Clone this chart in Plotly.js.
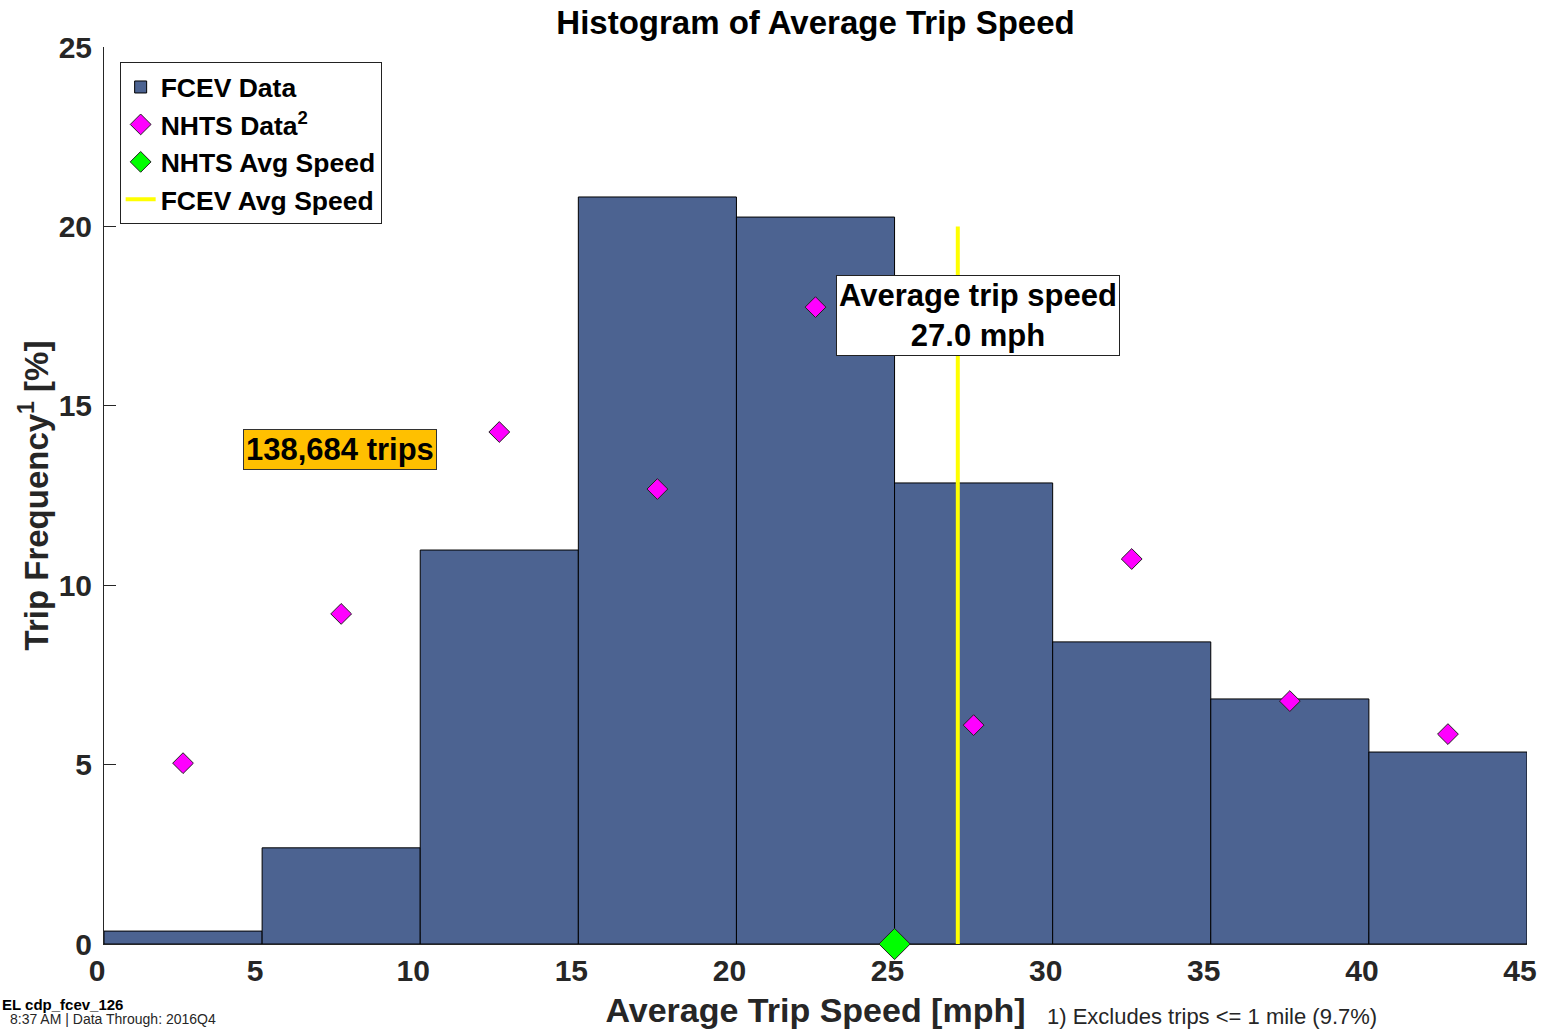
<!DOCTYPE html>
<html>
<head>
<meta charset="utf-8">
<script src="https://cdn.plot.ly/plotly-3.0.1.min.js"></script>
<style>html,body{margin:0;padding:0;background:#fff;}#chart{width:1551px;height:1029px;}</style>
</head>
<body>
<div id="chart"></div>
<script>
// ---- data ----
const binStart = [0, 5, 10, 15, 20, 25, 30, 35, 40];
const binWidth = 5;
const fcevFreq = [0.36, 2.68, 10.98, 20.82, 20.26, 12.85, 8.42, 6.83, 5.35];
const nhtsSpeed = [2.5, 7.5, 12.5, 17.5, 22.5, 27.5, 32.5, 37.5, 42.5];
const nhtsFreq = [5.04, 9.2, 14.27, 12.68, 17.75, 6.1, 10.73, 6.77, 5.85];
const nhtsAvgSpeed = 25.0;
const fcevAvgSpeed = 27.0;
const avgLineTop = 20;
const tripCount = "138,684 trips";
const xTicks = [0, 5, 10, 15, 20, 25, 30, 35, 40, 45];
const yTicks = [0, 5, 10, 15, 20, 25];

const FONT = "Liberation Sans, Arial, sans-serif";
const TXT = "#262626";

const barTrace = {
  type: "bar", name: "<b>FCEV Data</b>",
  x: binStart, y: fcevFreq, width: binWidth, offset: 0,
  marker: {color: "#4C6391", line: {color: "#000", width: 1}},
  legendrank: 1
};
const nhtsTrace = {
  type: "scatter", mode: "markers", name: "<b>NHTS Data<sup>2</sup></b>",
  x: nhtsSpeed, y: nhtsFreq,
  marker: {symbol: "diamond", size: 16, color: "#FF00FF", line: {color: "#222", width: 1}},
  cliponaxis: false, legendrank: 2
};
const nhtsAvgTrace = {
  type: "scatter", mode: "markers", name: "<b>NHTS Avg Speed</b>",
  x: [nhtsAvgSpeed], y: [0],
  marker: {symbol: "diamond", size: 24, color: "#00FF00", line: {color: "#222", width: 1}},
  cliponaxis: false, legendrank: 3
};
const fcevAvgTrace = {
  type: "scatter", mode: "lines", name: "<b>FCEV Avg Speed</b>",
  x: [fcevAvgSpeed, fcevAvgSpeed], y: [0, avgLineTop],
  line: {color: "#FFFF00", width: 4}, legendrank: 4
};

const layout = {
  width: 1551, height: 1029,
  margin: {l: 104, r: 24, t: 47, b: 85},
  paper_bgcolor: "#fff", plot_bgcolor: "#fff",
  font: {family: FONT, color: TXT},
  showlegend: true,
  bargap: 0,
  title: {text: "<b>Histogram of Average Trip Speed</b>", font: {size: 33, color: "#000", family: FONT},
          x: 0.5, xref: "paper", y: 0.978, yref: "container", yanchor: "middle"},
  xaxis: {
    range: [0, 45], tickvals: xTicks, ticktext: xTicks.map(v => "<b>" + v + "</b>"),
    ticks: "inside", ticklen: 12, tickcolor: TXT, showline: true, linecolor: TXT, linewidth: 1,
    showgrid: false, zeroline: false, layer: "below traces", ticklabelshift: -7,
    tickfont: {size: 30, color: TXT, family: FONT},
    title: {text: "<b>Average Trip Speed [mph]</b>", font: {size: 34, color: TXT, family: FONT}, standoff: 14}
  },
  yaxis: {
    range: [0, 25], tickvals: yTicks, ticktext: yTicks.map(v => "<b>" + v + "</b>"),
    ticks: "inside", ticklen: 12, tickcolor: TXT, showline: true, linecolor: TXT, linewidth: 1,
    showgrid: false, zeroline: false, ticklabelstandoff: 5,
    tickfont: {size: 30, color: TXT, family: FONT},
    title: {text: "<b>Trip Frequency<sup>1</sup> [%]</b>", font: {size: 33, color: TXT, family: FONT}, standoff: 0}
  },
  legend: {
    x: 0.011, y: 0.983, xanchor: "left", yanchor: "top",
    bgcolor: "#fff", bordercolor: "#222", borderwidth: 1,
    font: {size: 26.5, color: "#000", family: FONT},
    tracegroupgap: 0, itemwidth: 30
  },
  annotations: [
    {x: 27.64, y: 17.53, xref: "x", yref: "y", showarrow: false,
     text: "<b>Average trip speed<br>27.0 mph</b>", font: {size: 31, color: "#000", family: FONT},
     bgcolor: "#fff", bordercolor: "#222", borderwidth: 1, borderpad: 2},
    {x: 7.46, y: 13.77, xref: "x", yref: "y", showarrow: false,
     text: "<b>" + tripCount + "</b>", font: {size: 31, color: "#000", family: FONT},
     bgcolor: "#FFC000", bordercolor: "#333", borderwidth: 1, borderpad: 2},
    {x: 1045, y: 1016, showarrow: false,
     text: "1) Excludes trips <= 1 mile (9.7%)", font: {size: 22, color: TXT, family: FONT},
     xanchor: "left", yanchor: "middle"},
    {x: 0, y: 1004, showarrow: false, text: "<b>EL cdp_fcev_126</b>", font: {size: 15, color: "#000", family: FONT},
     xanchor: "left", yanchor: "middle"},
    {x: 8, y: 1019, showarrow: false, text: "8:37 AM | Data Through: 2016Q4", font: {size: 14, color: TXT, family: FONT},
     xanchor: "left", yanchor: "middle"}
  ]
};
// convert pixel-placed footnote annotations to paper coords
const plotW = 1551 - 104 - 24, plotH = 1029 - 47 - 85;
layout.annotations.forEach(a => {
  if (a.xref === "x") return;
  a.xref = "paper"; a.yref = "paper";
  a.x = (a.x - 104) / plotW;
  a.y = (1029 - 85 - a.y) / plotH;
});

Plotly.newPlot("chart", [barTrace, fcevAvgTrace, nhtsTrace, nhtsAvgTrace], layout, {displayModeBar: false, staticPlot: true});
</script>
</body>
</html>
